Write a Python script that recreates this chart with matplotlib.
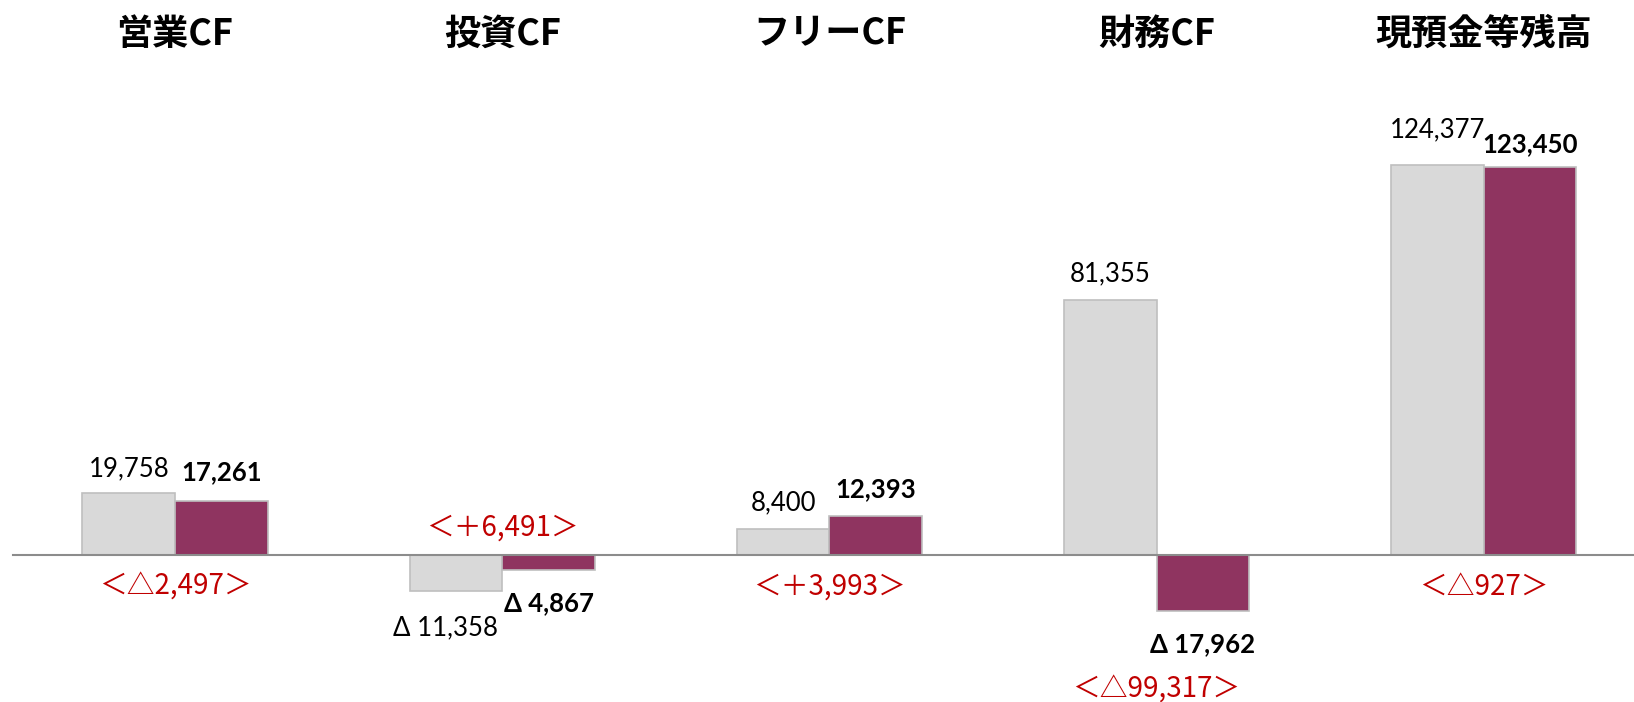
import numpy as np, matplotlib; matplotlib.use('Agg')
import matplotlib.pyplot as plt
import matplotlib.transforms as mtransforms

# data (百万円)
categories = ['営業CF', '投資CF', 'フリーCF', '財務CF', '現預金等残高']
prev_vals = [19758, -11358, 8400, 81355, 124377]
curr_vals = [17261, -4867, 12393, -17962, 123450]

# layout (pixel offsets of labels, not data)
prev_off = [24, -37, 26, 26, 35]
curr_off = [29, -33, 27, -33, 23]
prev_dx = [0, -10, 0, 0, 0]
diff_off = [-32, 27, -32, -135, -32]

GRAY, GRAY_EDGE, MAROON, RED = '#D9D9D9', '#BFBFBF', '#8F3460', '#C00000'
LAT = ['Lato', 'DejaVu Sans']
CJK = ['Noto Sans CJK JP', 'DejaVu Sans']

def fmt(v):
    return f'{v:,}' if v >= 0 else f'Δ {abs(v):,}'

def fmt_diff(d):
    return f'＜＋{d:,}＞' if d >= 0 else f'＜△{abs(d):,}＞'

fig = plt.figure(figsize=(16.34, 7.02), dpi=100)
ax = fig.add_axes([0, 0, 1, 1]); ax.axis('off')
ax.set_xlim(-0.535, 4.459); ax.set_ylim(-46830, 176800)

x = np.arange(len(categories)); w = 0.283
b1 = ax.bar(x - w/2, prev_vals, w, color=GRAY, edgecolor=GRAY_EDGE, lw=1.2, zorder=2)
b2 = ax.bar(x + w/2, curr_vals, w, color=MAROON, edgecolor=GRAY_EDGE, lw=1.2, zorder=2)
ax.axhline(0, xmin=13/1634, xmax=1, color='#8C8C8C', lw=1.5, zorder=3)

px = 72/100  # pixels -> points
for i in range(len(categories)):
    ax.annotate(fmt(prev_vals[i]), (x[i] - w/2, prev_vals[i]), xytext=(prev_dx[i]*px, prev_off[i]*px),
                textcoords='offset points', ha='center', va='center', fontsize=18.5, family=LAT)
    ax.annotate(fmt(curr_vals[i]), (x[i] + w/2, curr_vals[i]), xytext=(0, curr_off[i]*px),
                textcoords='offset points', ha='center', va='center', fontsize=18.5, fontweight='bold', family=LAT)
    d = curr_vals[i] - prev_vals[i]
    ax.annotate(fmt_diff(d), (x[i], 0), xytext=(0, diff_off[i]*px), textcoords='offset points',
                ha='center', va='center', fontsize=20, color=RED, family=CJK)

trans = mtransforms.blended_transform_factory(ax.transData, ax.transAxes)
for i, c in enumerate(categories):
    ax.text(x[i], 1 - 34/702, c, transform=trans, ha='center', va='center',
            fontsize=26, fontweight='bold', family=CJK)

fig.savefig('out.png', dpi=100)
